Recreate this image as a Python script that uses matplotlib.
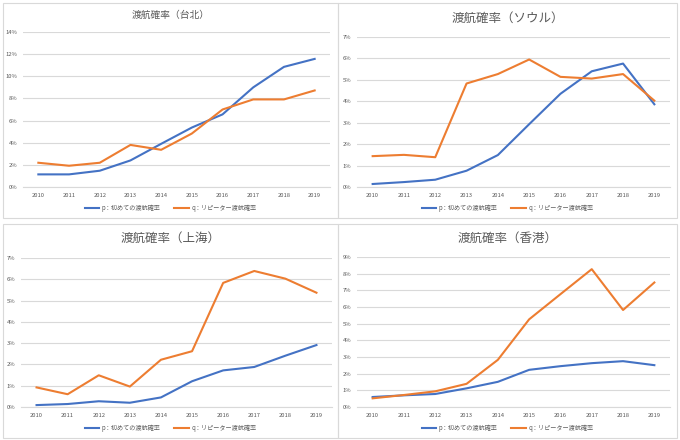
import matplotlib
matplotlib.use("Agg")
import matplotlib.pyplot as plt
from matplotlib.patches import Rectangle
from matplotlib.ticker import FuncFormatter, MultipleLocator

plt.rcParams['font.family'] = ['Noto Sans CJK JP', 'DejaVu Sans']

years = [str(y) for y in range(2010, 2020)]

# 台北
taipei_p = [1.14, 1.14, 1.47, 2.40, 3.90, 5.37, 6.56, 9.00, 10.85, 11.57]
taipei_q = [2.19, 1.92, 2.19, 3.80, 3.36, 4.83, 7.00, 7.91, 7.91, 8.72]
# ソウル
seoul_p = [0.14, 0.23, 0.34, 0.76, 1.49, 2.93, 4.35, 5.40, 5.76, 3.86]
seoul_q = [1.44, 1.50, 1.39, 4.83, 5.27, 5.95, 5.14, 5.06, 5.27, 4.03]
# 上海
shanghai_p = [0.09, 0.14, 0.27, 0.20, 0.45, 1.21, 1.72, 1.88, 2.41, 2.91]
shanghai_q = [0.92, 0.60, 1.49, 0.96, 2.22, 2.62, 5.83, 6.39, 6.03, 5.37]
# 香港
hk_p = [0.60, 0.70, 0.78, 1.12, 1.51, 2.23, 2.45, 2.63, 2.75, 2.51]
hk_q = [0.52, 0.72, 0.94, 1.39, 2.83, 5.26, 6.77, 8.27, 5.82, 7.47]

label_p = "p：初めての渡航確率"
label_q = "q：リピーター渡航確率"

BLUE = "#4472C4"
ORANGE = "#ED7D31"
GREY = "#595959"
W, H = 680, 440

fig = plt.figure(figsize=(6.8, 4.4), dpi=100)


def px(x0, y0, x1, y1):
    # pixel box (top-left origin) -> figure fraction
    return [x0 / W, 1 - y1 / H, (x1 - x0) / W, (y1 - y0) / H]


panels = [
    # title, p, q, ymax, step, panel box, axes box, title size, title y
    ("渡航確率（台北）", taipei_p, taipei_q, 14, 2, (3, 3, 338, 218), (23, 32, 330, 187), 7, 15),
    ("渡航確率（ソウル）", seoul_p, seoul_q, 7, 1, (338, 3, 677, 218), (357, 37, 670, 187), 9, 18),
    ("渡航確率（上海）", shanghai_p, shanghai_q, 7, 1, (3, 224, 338, 438), (21, 258, 332, 407), 9, 238),
    ("渡航確率（香港）", hk_p, hk_q, 9, 1, (338, 224, 677, 438), (357, 257, 670, 407), 9, 238),
]

for title, p, q, ymax, step, pbox, abox, tsize, ty in panels:
    fig.patches.append(Rectangle((pbox[0] / W, 1 - pbox[3] / H),
                                 (pbox[2] - pbox[0]) / W, (pbox[3] - pbox[1]) / H,
                                 transform=fig.transFigure, fill=False,
                                 edgecolor="#D9D9D9", lw=0.8))
    ax = fig.add_axes(px(*abox))
    x = range(len(years))
    ax.plot(x, p, color=BLUE, lw=1.5, label=label_p)
    ax.plot(x, q, color=ORANGE, lw=1.5, label=label_q)
    ax.set_xlim(-0.5, len(years) - 0.5)
    ax.set_ylim(0, ymax)
    ax.yaxis.set_major_locator(MultipleLocator(step))
    ax.yaxis.set_major_formatter(FuncFormatter(lambda v, _: f"{v:.0f}%"))
    ax.set_xticks(list(x))
    ax.set_xticklabels(years)
    ax.tick_params(axis="both", length=0, labelsize=4.2, colors=GREY, pad=4)
    ax.grid(axis="y", color="#D9D9D9", lw=0.8)
    ax.set_axisbelow(True)
    for s in ["top", "right", "left"]:
        ax.spines[s].set_visible(False)
    ax.spines["bottom"].set_color("#D9D9D9")
    ax.spines["bottom"].set_linewidth(0.8)
    cx = (pbox[0] + pbox[2]) / 2 / W
    fig.text(cx, 1 - ty / H, title, ha="center", va="center",
             fontsize=tsize, color=GREY)
    fig.legend(handles=ax.get_lines(), loc="center",
               bbox_to_anchor=(cx, 1 - (pbox[3] - 10) / H),
               ncol=2, frameon=False, fontsize=4.4, labelcolor=GREY,
               handlelength=2.4, columnspacing=2.2, handletextpad=0.4)

fig.savefig("out.png", dpi=100, facecolor="white")
